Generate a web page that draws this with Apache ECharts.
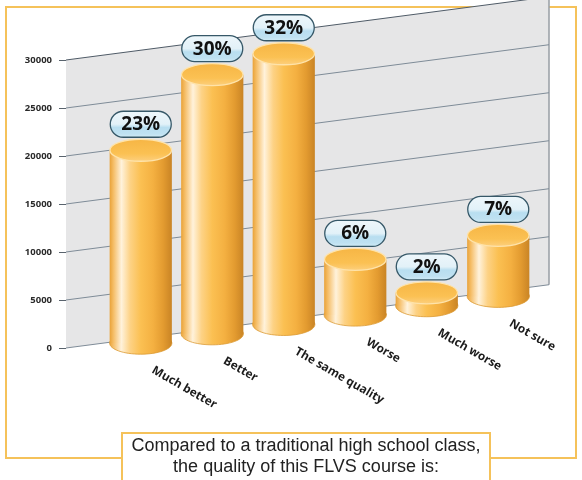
<!DOCTYPE html>
<html><head><meta charset="utf-8">
<script src="https://cdn.jsdelivr.net/npm/echarts@6/dist/echarts.min.js"></script>
<style>html,body{margin:0;padding:0;background:#fff}#c{width:582px;height:480px}</style>
</head><body><div id="c"></div>
<script>
// ---- data ----
const categories = ['Much better', 'Better', 'The same quality', 'Worse', 'Much worse', 'Not sure'];
const values = [20100, 27000, 28200, 5800, 1350, 6350];
const percentLabels = ['23%', '30%', '32%', '6%', '2%', '7%'];
const yTicks = [0, 5000, 10000, 15000, 20000, 25000, 30000];
const yMin = 0, yMax = 30000, yInterval = 5000;
const captionLines = ['Compared to a traditional high school class,', 'the quality of this FLVS course is:'];

// ---- layout ----
const WALL_LEFT = 66;
const SLOPE = 0.131;     // perspective skew of the wall (px per px)
const BAR_DROP = 5;      // bars stand slightly in front of the wall
const BAR_RY = 11;       // ellipse half-height of cylinder caps
const ORANGE = '#f5c25a';

function skewY(x, y) { return y - SLOPE * (x - WALL_LEFT); }

const chart = echarts.init(document.getElementById('c'), null, { renderer: 'canvas' });

const sideGrad = () => new echarts.graphic.LinearGradient(0, 0, 1, 0, [
  { offset: 0, color: '#e9a238' },
  { offset: 0.06, color: '#f5bd66' },
  { offset: 0.19, color: '#fff2db' },
  { offset: 0.33, color: '#fdd285' },
  { offset: 0.5, color: '#fbc052' },
  { offset: 0.7, color: '#f4b041' },
  { offset: 0.86, color: '#e39b30' },
  { offset: 1, color: '#c98425' }
]);
const topGrad = () => new echarts.graphic.LinearGradient(0, 0, 0, 1, [
  { offset: 0, color: '#f6b544' },
  { offset: 0.65, color: '#fbc153' },
  { offset: 1, color: '#fdd080' }
]);
const boxGrad = () => new echarts.graphic.LinearGradient(0, 0, 0, 1, [
  { offset: 0, color: '#eef7fb' },
  { offset: 0.5, color: '#e2f1f8' },
  { offset: 0.62, color: '#b8def0' },
  { offset: 0.85, color: '#bfe1f1' },
  { offset: 1, color: '#d4edf7' }
]);

const option = {
  animation: false,
  backgroundColor: '#ffffff',
  grid: [
    { left: 66, right: 33, top: 60, bottom: 132 },
    { left: 105, width: 429, top: 60, bottom: 132 }
  ],
  xAxis: [
    { gridIndex: 0, type: 'value', min: 0, max: 1, show: false },
    { gridIndex: 1, type: 'category', data: categories, show: false }
  ],
  yAxis: [
    {
      gridIndex: 0, type: 'value', min: yMin, max: yMax, interval: yInterval,
      axisLine: { show: false },
      axisTick: { show: true, length: 7, lineStyle: { color: '#59636d', width: 1 } },
      axisLabel: { margin: 14, fontFamily: 'Open Sans', fontWeight: 'bold', fontSize: 9.5, color: '#2a2a2a',
                   formatter: v => String(v) },
      splitLine: { show: false }
    },
    { gridIndex: 1, type: 'value', min: yMin, max: yMax, show: false }
  ],
  graphic: [
    { type: 'rect', z: 0, shape: { x: 6, y: 7, width: 570, height: 451 },
      style: { fill: 'none', stroke: ORANGE, lineWidth: 2 } },
    { type: 'rect', z: 1, shape: { x: 122, y: 433, width: 368, height: 60 },
      style: { fill: '#ffffff', stroke: ORANGE, lineWidth: 2 } },
    { type: 'text', z: 2, x: 306, y: 446,
      style: { text: captionLines[0], fill: '#222', font: '18px "Liberation Sans", Arial, sans-serif',
               align: 'center', verticalAlign: 'middle', textAlign: 'center', textVerticalAlign: 'middle' } },
    { type: 'text', z: 2, x: 306, y: 467,
      style: { text: captionLines[1], fill: '#222', font: '18px "Liberation Sans", Arial, sans-serif',
               align: 'center', verticalAlign: 'middle', textAlign: 'center', textVerticalAlign: 'middle' } }
  ],
  series: [
    {
      name: 'wall', type: 'custom', xAxisIndex: 0, yAxisIndex: 0, z: 1, silent: true,
      data: [[0, yMax]],
      renderItem: function (params, api) {
        const tl = api.coord([0, yMax]), tr = api.coord([1, yMax]);
        const bl = api.coord([0, yMin]), br = api.coord([1, yMin]);
        const P = p => [p[0], skewY(p[0], p[1])];
        const a = P(tl), b = P(tr), c = P(br), d = P(bl);
        return {
          type: 'group', children: [
            { type: 'polygon', shape: { points: [a, b, c, d] }, style: { fill: '#e6e6e7' } },
            { type: 'line', shape: { x1: b[0], y1: b[1], x2: c[0], y2: c[1] },
              style: { stroke: '#9da3a9', lineWidth: 1.6 } }
          ]
        };
      }
    },
    {
      name: 'grid', type: 'custom', xAxisIndex: 0, yAxisIndex: 0, z: 2, silent: true,
      data: yTicks.map(v => [0, v]),
      renderItem: function (params, api) {
        const v = api.value(1);
        const p0 = api.coord([0, v]), p1 = api.coord([1, v]);
        return {
          type: 'line',
          shape: { x1: p0[0], y1: skewY(p0[0], p0[1]), x2: p1[0], y2: skewY(p1[0], p1[1]) },
          style: { stroke: v === yMax ? '#4f5b67' : '#7f8c98', lineWidth: 1 }
        };
      }
    },
    {
      name: 'bars', type: 'custom', xAxisIndex: 1, yAxisIndex: 1, z: 3,
      data: values.map((v, i) => [i, v]),
      encode: { x: 0, y: 1 },
      renderItem: function (params, api) {
        const i = api.value(0), v = api.value(1);
        const base = api.coord([i, 0]), top = api.coord([i, v]);
        const cx = base[0];
        const yb = skewY(cx, base[1]) + BAR_DROP;
        const yt = skewY(cx, top[1]) + BAR_DROP;
        const rx = api.size([1, 0])[0] * 0.435;
        const boxW = 61, boxH = 26;
        const boxBottom = yt - BAR_RY - 2;
        return {
          type: 'group', children: [
            { type: 'ellipse', shape: { cx: cx, cy: yb, rx: rx, ry: BAR_RY },
              style: { fill: sideGrad(), stroke: '#dc9a34', lineWidth: 0.8 } },
            { type: 'rect', shape: { x: cx - rx, y: yt, width: 2 * rx, height: yb - yt },
              style: { fill: sideGrad() } },
            { type: 'ellipse', shape: { cx: cx, cy: yt, rx: rx - 0.3, ry: BAR_RY },
              style: { fill: topGrad(), stroke: '#fee3aa', lineWidth: 1.3 } },
            { type: 'rect', shape: { x: cx - boxW / 2, y: boxBottom - boxH, width: boxW, height: boxH, r: boxH / 2 },
              style: { fill: boxGrad(), stroke: '#365868', lineWidth: 1.3 } },
            { type: 'text', x: cx, y: boxBottom - boxH / 2 + 0.5,
              style: { text: percentLabels[i], fill: '#111', font: 'bold 19px "Open Sans", sans-serif',
                       align: 'center', verticalAlign: 'middle', textAlign: 'center', textVerticalAlign: 'middle' } },
            { type: 'text', x: cx + 15, y: yb + 21, rotation: -Math.PI / 6,
              style: { text: categories[i], fill: '#1b1b1b', font: 'bold 11.8px "Open Sans", sans-serif',
                       align: 'left', verticalAlign: 'top', textAlign: 'left', textVerticalAlign: 'top' } }
          ]
        };
      }
    }
  ]
};
chart.setOption(option);
</script>
</body></html>
